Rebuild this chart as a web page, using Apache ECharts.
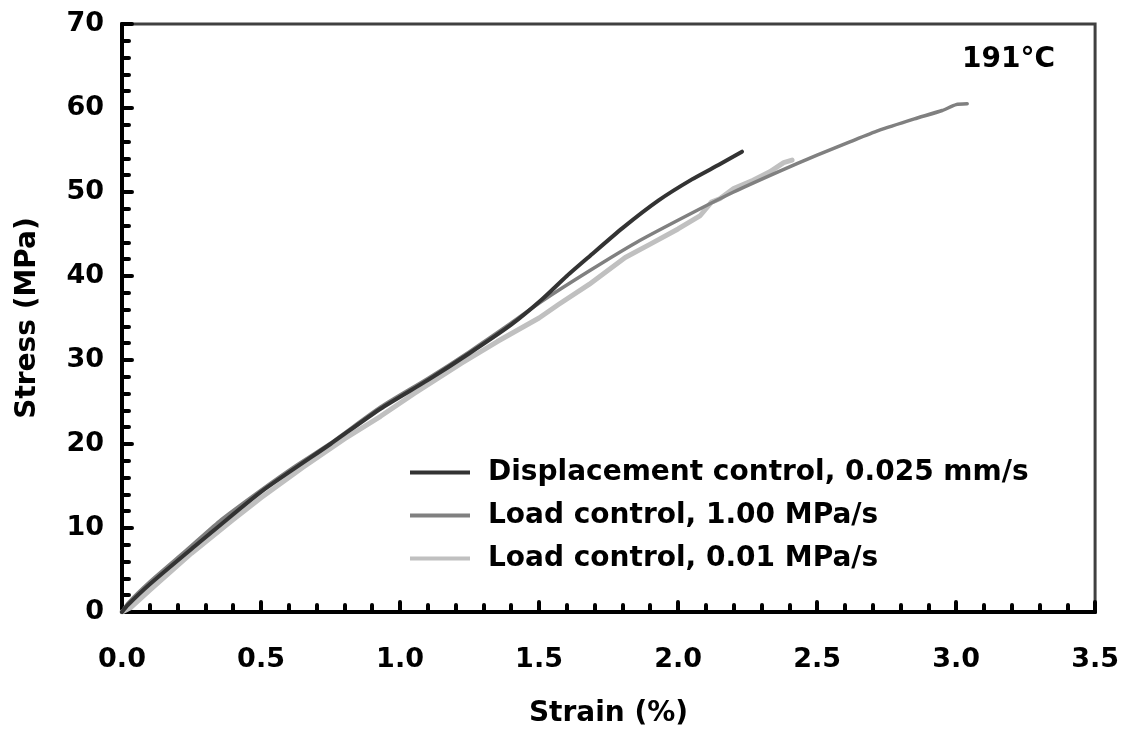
<!DOCTYPE html>
<html>
<head>
<meta charset="utf-8">
<script src="https://cdn.jsdelivr.net/npm/echarts@6/dist/echarts.min.js"></script>
<style>
html,body{margin:0;padding:0;background:#fff;}
#chart{width:1122px;height:738px;}
</style>
</head>
<body>
<div id="chart"></div>
<script>
// ---- data ----
const seriesNames = ['Displacement control, 0.025 mm/s', 'Load control, 1.00 MPa/s', 'Load control, 0.01 MPa/s'];

const dispStrain = [0, 0.02, 0.1, 0.25, 0.5, 0.75, 0.93, 1.1, 1.25, 1.4, 1.51, 1.6, 1.68, 1.8, 1.93, 2.05, 2.15, 2.23];
const dispStress = [0, 0.8, 3.3, 7.5, 14.3, 20.0, 24.2, 27.6, 30.8, 34.2, 37.2, 40.0, 42.3, 45.7, 49.0, 51.5, 53.3, 54.8];

const load100Strain = [0, 0.02, 0.1, 0.233, 0.35, 0.5, 0.62, 0.75, 0.93, 1.1, 1.25, 1.4, 1.51, 1.68, 1.85, 2.05, 2.2, 2.36, 2.5, 2.62, 2.72, 2.85, 2.95, 3.0, 3.04];
const load100Stress = [0, 1.0, 3.6, 7.4, 10.8, 14.5, 17.3, 20.1, 24.4, 27.8, 31.0, 34.4, 37.0, 40.6, 44.0, 47.5, 50.0, 52.4, 54.4, 56.0, 57.3, 58.7, 59.7, 60.4, 60.5];

const load001Strain = [0, 0.03, 0.1, 0.25, 0.4, 0.5, 0.65, 0.8, 0.93, 1.05, 1.22, 1.35, 1.5, 1.57, 1.68, 1.81, 1.9, 2.0, 2.08, 2.12, 2.15, 2.2, 2.27, 2.33, 2.38, 2.41];
const load001Stress = [0, 0.5, 2.6, 7.0, 11.0, 13.6, 17.2, 20.6, 23.3, 26.0, 29.6, 32.2, 35.0, 36.6, 39.0, 42.2, 43.8, 45.6, 47.2, 48.8, 49.2, 50.4, 51.4, 52.4, 53.5, 53.8];

const xTicks = {min: 0, max: 3.5, interval: 0.5};
const yTicks = {min: 0, max: 70, interval: 10};
const annotation = '191°C';

const zip = (a, b) => a.map((v, i) => [v, b[i]]);

const FONT = '"DejaVu Sans", sans-serif';
const chart = echarts.init(document.getElementById('chart'), null, {renderer: 'canvas'});

const axisCommon = {
  axisLine: {show: true, onZero: false, lineStyle: {color: '#000', width: 4}},
  axisTick: {show: true, inside: true, length: 10, lineStyle: {color: '#000', width: 4, cap: 'round'}},
  minorTick: {show: true, splitNumber: 5, length: 7, lineStyle: {color: '#000', width: 4, cap: 'round'}},
  splitLine: {show: false},
  nameTextStyle: {fontFamily: FONT, fontWeight: 'bold', fontSize: 28, color: '#000'}
};

chart.setOption({
  animation: false,
  backgroundColor: '#fff',
  grid: {left: 122, right: 25, top: 24, bottom: 126, show: true, borderColor: '#404040', borderWidth: 3, backgroundColor: 'transparent'},
  xAxis: Object.assign({}, axisCommon, {
    type: 'value', min: xTicks.min, max: xTicks.max, interval: xTicks.interval,
    name: 'Strain (%)', nameLocation: 'middle', nameGap: 88,
    axisLabel: {fontFamily: FONT, fontWeight: 'bold', fontSize: 27, color: '#000', margin: 34,
      formatter: v => v.toFixed(1)}
  }),
  yAxis: Object.assign({}, axisCommon, {
    type: 'value', min: yTicks.min, max: yTicks.max, interval: yTicks.interval,
    name: 'Stress (MPa)', nameLocation: 'middle', nameGap: 80,
    axisLabel: {fontFamily: FONT, fontWeight: 'bold', fontSize: 27, color: '#000', margin: 18}
  }),
  legend: {
    data: [
      {name: seriesNames[0], icon: 'rect', itemStyle: {color: '#333333'}},
      {name: seriesNames[1], icon: 'rect', itemStyle: {color: '#808080'}},
      {name: seriesNames[2], icon: 'rect', itemStyle: {color: '#c0c0c0'}}
    ],
    orient: 'vertical', left: 405, top: 452,
    itemWidth: 60, itemHeight: 4, itemGap: 12,
    textStyle: {fontFamily: FONT, fontWeight: 'bold', fontSize: 28, color: '#000', lineHeight: 31, padding: [0, 0, 0, 13]},
    selectedMode: false
  },
  graphic: [{
    type: 'text', left: 962, top: 46,
    style: {text: annotation, font: 'bold 28px "DejaVu Sans", sans-serif', fill: '#000'}
  }],
  series: [
    {name: seriesNames[2], type: 'line', data: zip(load001Strain, load001Stress), symbol: 'none', z: 2,
     lineStyle: {color: '#c0c0c0', width: 5, cap: 'round', join: 'round'}, itemStyle: {color: '#c0c0c0'}},
    {name: seriesNames[1], type: 'line', data: zip(load100Strain, load100Stress), symbol: 'none', smooth: 0.2, z: 3,
     lineStyle: {color: '#808080', width: 3.5, cap: 'round', join: 'round'}, itemStyle: {color: '#808080'}},
    {name: seriesNames[0], type: 'line', data: zip(dispStrain, dispStress), symbol: 'none', smooth: 0.2, z: 4,
     lineStyle: {color: '#333333', width: 4, cap: 'round', join: 'round'}, itemStyle: {color: '#333333'}}
  ]
});
</script>
</body>
</html>
